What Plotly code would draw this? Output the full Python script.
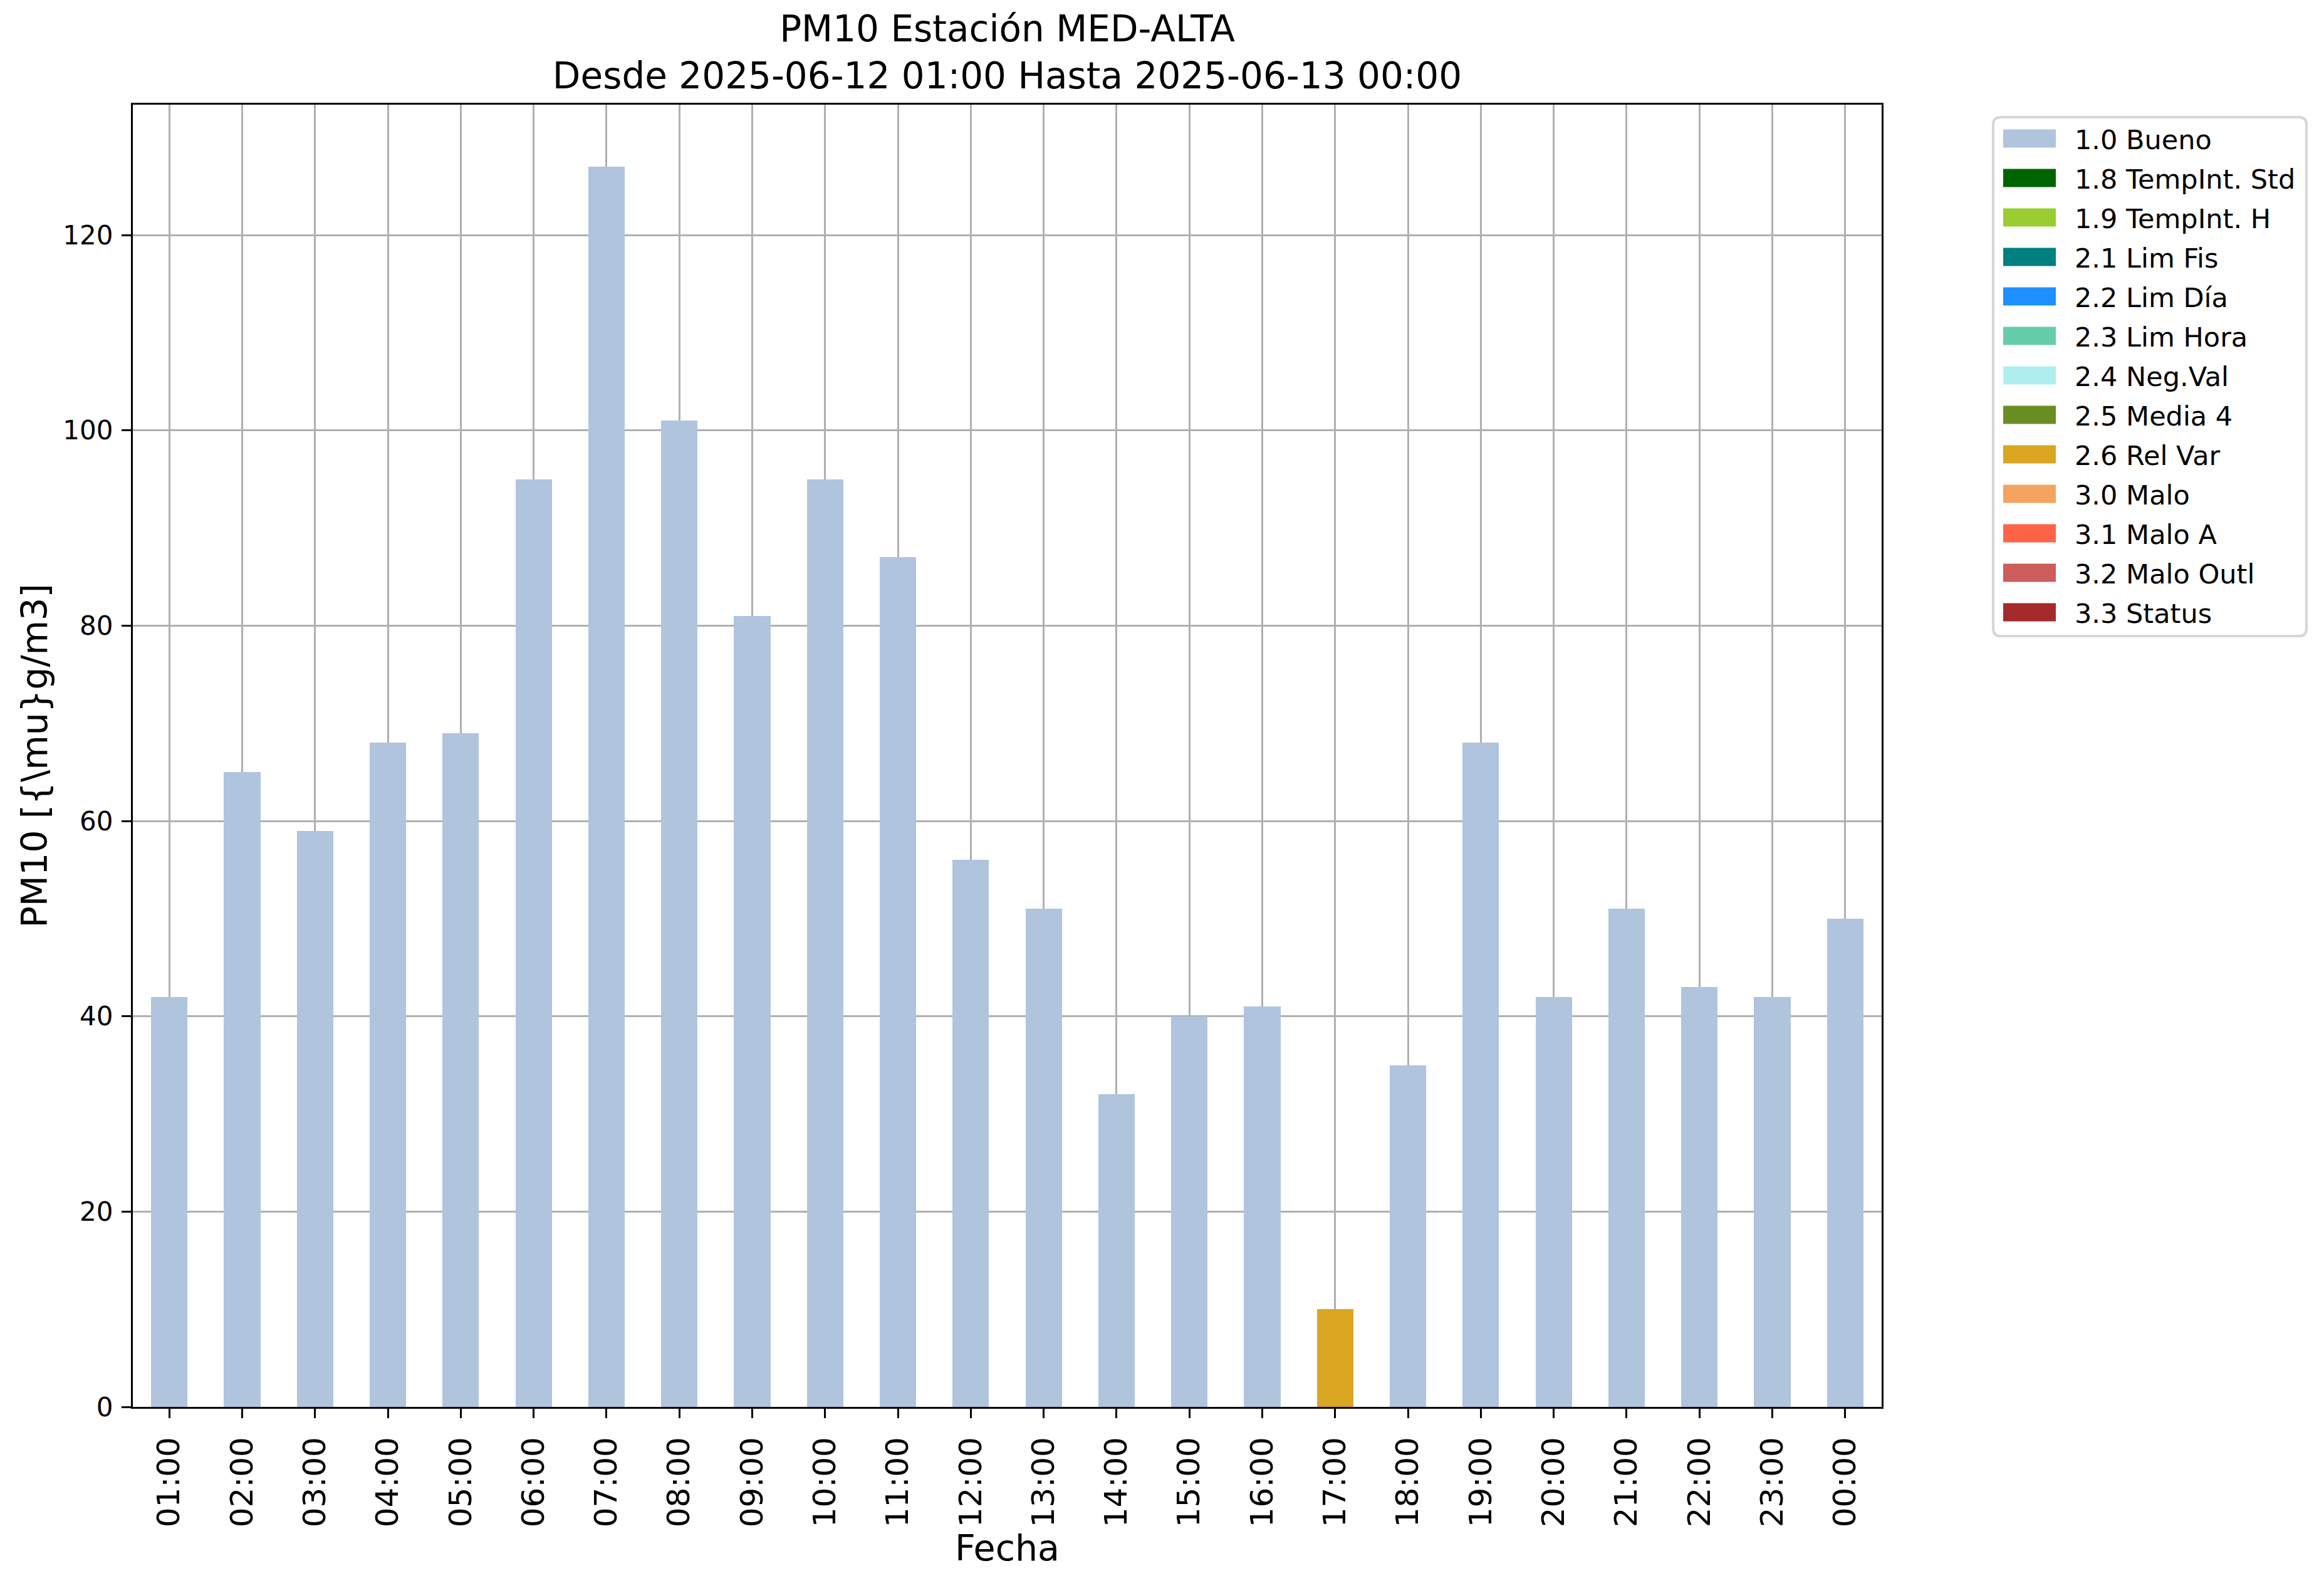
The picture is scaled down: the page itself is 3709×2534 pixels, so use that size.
import plotly.graph_objects as go

# ---------------- data ----------------
hours = ["01:00", "02:00", "03:00", "04:00", "05:00", "06:00", "07:00", "08:00",
         "09:00", "10:00", "11:00", "12:00", "13:00", "14:00", "15:00", "16:00",
         "17:00", "18:00", "19:00", "20:00", "21:00", "22:00", "23:00", "00:00"]

bueno = [42, 65, 59, 68, 69, 95, 127, 101, 81, 95, 87, 56,
         51, 32, 40, 41, 0, 35, 68, 42, 51, 43, 42, 50]
rel_var = [0, 0, 0, 0, 0, 0, 0, 0, 0, 0, 0, 0,
           0, 0, 0, 0, 10, 0, 0, 0, 0, 0, 0, 0]

legend_names = ["1.0 Bueno", "1.8 TempInt. Std", "1.9 TempInt. H", "2.1 Lim Fis",
                "2.2 Lim Día", "2.3 Lim Hora", "2.4 Neg.Val", "2.5 Media 4",
                "2.6 Rel Var", "3.0 Malo", "3.1 Malo A", "3.2 Malo Outl", "3.3 Status"]
legend_colors = ["#B0C4DE", "#006400", "#9ACD32", "#008080", "#1E90FF", "#66CDAA",
                 "#AFEEEE", "#6B8E23", "#DAA520", "#F4A460", "#FF6347", "#CD5C5C",
                 "#A52A2A"]

series = [("1.0 Bueno", bueno, "#B0C4DE"), ("2.6 Rel Var", rel_var, "#DAA520")]

title_text = "PM10 Estación MED-ALTA<br>Desde 2025-06-12 01:00 Hasta 2025-06-13 00:00"
x_title = "Fecha"
y_title = "PM10 [{\\mu}g/m3]"
y_ticks = [0, 20, 40, 60, 80, 100, 120]

# ---------------- layout geometry (screen px) ----------------
OFF = 8                      # page body margin of the browser
W, H = 3709 - OFF, 2534 - OFF
L, R, T, B = 212, 3003, 167, 2245
FONT = "DejaVu Sans"

def px2x(px):
    return (px - L) / (R - L)

def py2y(py):
    return (B - py) / (B - T)

fig = go.Figure()
for name, vals, col in series:
    fig.add_trace(go.Bar(x=hours, y=vals, name=name, marker_color=col,
                         marker_line_width=0, width=0.5, showlegend=False))

fig.update_layout(
    width=W, height=H,
    margin=dict(l=L - OFF, r=W + OFF - R, t=T - OFF, b=H + OFF - B, pad=0),
    barmode="stack",
    paper_bgcolor="white", plot_bgcolor="white",
    font=dict(family=FONT, color="black"),
    title=dict(text=title_text, font=dict(size=58, family=FONT, color="black"),
               x=0.5, xanchor="center", xref="paper",
               y=1, yanchor="bottom", yref="paper", pad=dict(b=101)),
    showlegend=False,
)

axis_common = dict(showline=True, linecolor="black", linewidth=3.3, mirror=True,
                   ticks="outside", ticklen=15, tickwidth=3.3, tickcolor="black",
                   showgrid=True, gridcolor="#b0b0b0", gridwidth=3.3,
                   layer="above traces", zeroline=False)

fig.update_xaxes(type="category", categoryorder="array", categoryarray=hours,
                 range=[-0.5, len(hours) - 0.5], tickangle=-90,
                 tickfont=dict(size=50, family=FONT, color="black"),
                 ticklabelstandoff=10,
                 title=dict(text=x_title, font=dict(size=57, family=FONT, color="black"),
                            standoff=6),
                 **axis_common)
fig.update_yaxes(range=[0, 133.35], tickvals=y_ticks,
                 tickfont=dict(size=42, family=FONT, color="black"),
                 ticklabelstandoff=5,
                 title=dict(text=y_title, font=dict(size=57, family=FONT, color="black"),
                            standoff=7),
                 **axis_common)

# ---------------- legend box (drawn outside the axes) ----------------
bx0, bx1, by0, by1, rr = 3181, 3681, 187, 1015, 12
rx = rr / (R - L)
ry = rr / (B - T)
x0, x1 = px2x(bx0), px2x(bx1)
y0, y1 = py2y(by1), py2y(by0)
path = (f"M{x0 + rx},{y1} L{x1 - rx},{y1} Q{x1},{y1} {x1},{y1 - ry} "
        f"L{x1},{y0 + ry} Q{x1},{y0} {x1 - rx},{y0} "
        f"L{x0 + rx},{y0} Q{x0},{y0} {x0},{y0 + ry} "
        f"L{x0},{y1 - ry} Q{x0},{y1} {x0 + rx},{y1} Z")
fig.add_shape(type="path", path=path, xref="paper", yref="paper",
              line=dict(color="#d6d6d6", width=4), fillcolor="white", layer="above")

first_row, row_gap, sw_h = 221, 63, 29
for i, (nm, col) in enumerate(zip(legend_names, legend_colors)):
    cy = first_row + i * row_gap
    fig.add_shape(type="rect", xref="paper", yref="paper",
                  x0=px2x(3197), x1=px2x(3281),
                  y0=py2y(cy + sw_h / 2), y1=py2y(cy - sw_h / 2),
                  fillcolor=col, line=dict(width=0), layer="above")
    fig.add_annotation(x=px2x(3309), y=py2y(cy + 2), xref="paper", yref="paper",
                       text=nm, showarrow=False, xanchor="left", yanchor="middle",
                       font=dict(size=43, family=FONT, color="black"))

fig.write_html("out.html")
